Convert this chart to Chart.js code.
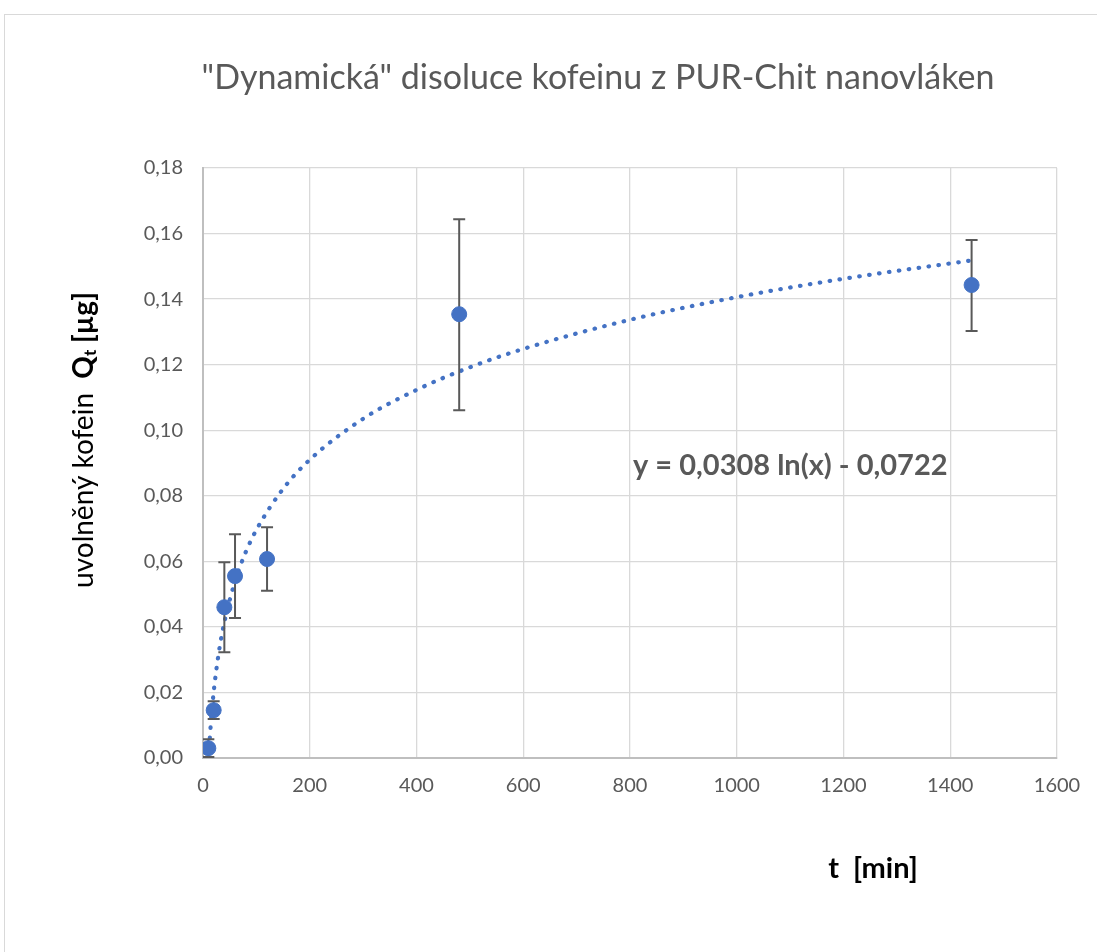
<!DOCTYPE html>
<html>
<head>
<meta charset="utf-8">
<script src="https://cdn.jsdelivr.net/npm/chart.js@4.4.1/dist/chart.umd.min.js"></script>
<style>
  html, body { margin: 0; background: #fff; }
</style>
</head>
<body>
<canvas id="chart" width="1097" height="952"></canvas>
<script>
// measured points (time in min, released caffeine in µg) with error bars
const timeMin = [10, 20, 40, 60, 120, 480, 1440];
const released = [0.003, 0.0146, 0.046, 0.0555, 0.0607, 0.1354, 0.1443];
const errPlus = [0.0027, 0.0027, 0.0137, 0.0128, 0.0097, 0.029, 0.0137];
const errMinus = [0.0027, 0.0027, 0.0137, 0.0128, 0.0097, 0.0293, 0.014];

// dotted log trendline
const trendX = [10, 12, 15, 20, 30, 40, 60, 80, 100, 150, 200, 300, 400, 500, 600, 800, 1000, 1200, 1440];
const trendY = [0.000, 0.0043, 0.0112, 0.0201, 0.0326, 0.0414, 0.0539, 0.0628, 0.0696, 0.0821, 0.0910,
                0.1035, 0.1123, 0.1192, 0.1248, 0.1337, 0.1406, 0.1462, 0.1518];

const titleText = '"Dynamická" disoluce kofeinu z PUR-Chit nanovláken';
const equationText = 'y = 0,0308 ln(x) - 0,0722';
const xTitle = 't  [min]';

const blue = '#4472C4';
const grey = '#595959';
const fontName = 'Lato, "Open Sans", sans-serif';

const errorBars = {
    id: 'errorBars',
    beforeDatasetDraw(chart, args) {
        if (args.index !== 0) return;
        const ctx = chart.ctx;
        const xs = chart.scales.x, ys = chart.scales.y;
        ctx.save();
        ctx.beginPath();
        ctx.rect(chart.chartArea.left, chart.chartArea.top, chart.chartArea.width, chart.chartArea.height);
        ctx.clip();
        ctx.strokeStyle = grey;
        ctx.lineWidth = 2;
        timeMin.forEach((t, i) => {
            const px = xs.getPixelForValue(t);
            const top = ys.getPixelForValue(released[i] + errPlus[i]);
            const bot = ys.getPixelForValue(released[i] - errMinus[i]);
            ctx.beginPath();
            ctx.moveTo(px, top); ctx.lineTo(px, bot);
            ctx.moveTo(px - 6, top); ctx.lineTo(px + 6, top);
            ctx.moveTo(px - 6, bot); ctx.lineTo(px + 6, bot);
            ctx.stroke();
        });
        ctx.restore();
    }
};

const labels = {
    id: 'labels',
    beforeDraw(chart) {
        const ctx = chart.ctx;
        ctx.save();
        ctx.strokeStyle = '#d9d9d9';
        ctx.lineWidth = 1;
        ctx.strokeRect(4.5, 14.5, 1400, 1400);
        ctx.restore();
    },
    afterDraw(chart) {
        const ctx = chart.ctx;
        ctx.save();
        ctx.fillStyle = grey;
        ctx.textBaseline = 'middle';

        ctx.textAlign = 'center';
        ctx.font = '34px ' + fontName;
        ctx.fillText(titleText, 598, 78);

        ctx.fillStyle = '#000';
        ctx.font = 'bold 29px ' + fontName;
        ctx.fillText(xTitle, 873, 869);

        ctx.fillStyle = grey;
        ctx.textAlign = 'left';
        ctx.font = 'bold 29px ' + fontName;
        ctx.fillText(equationText, 633, 466);

        // rotated y title with bold Q and subscript t
        const parts = [
            { t: 'uvolněný kofein  ', f: '28px ' + fontName, dy: 0 },
            { t: 'Q', f: 'bold 28px ' + fontName, dy: 0 },
            { t: 't', f: 'bold 17px ' + fontName, dy: 7 },
            { t: ' [µg]', f: 'bold 28px ' + fontName, dy: 0 }
        ];
        let total = 0;
        parts.forEach(p => { ctx.font = p.f; p.w = ctx.measureText(p.t).width; total += p.w; });
        ctx.translate(84, 440);
        ctx.rotate(-Math.PI / 2);
        ctx.fillStyle = '#000';
        let x = -total / 2;
        parts.forEach(p => { ctx.font = p.f; ctx.fillText(p.t, x, p.dy); x += p.w; });
        ctx.restore();
    }
};

new Chart(document.getElementById('chart'), {
    type: 'scatter',
    data: {
        datasets: [{
            label: 'data',
            data: timeMin.map((t, i) => ({ x: t, y: released[i] })),
            backgroundColor: blue,
            borderColor: blue,
            pointRadius: 7.5,
            pointHoverRadius: 7.5
        }, {
            label: 'trend',
            data: trendX.map((t, i) => ({ x: t, y: trendY[i] })),
            showLine: true,
            borderColor: blue,
            borderWidth: 4.2,
            borderDash: [0.5, 9.5],
            borderCapStyle: 'round',
            cubicInterpolationMode: 'monotone',
            pointRadius: 0
        }]
    },
    options: {
        responsive: false,
        animation: false,
        layout: { padding: { left: 143, right: 40, top: 168, bottom: 144 } },
        plugins: { legend: { display: false }, tooltip: { enabled: false } },
        scales: {
            x: {
                type: 'linear', min: 0, max: 1600,
                afterFit(s) { s.height = 50; },
                ticks: {
                    stepSize: 200, color: grey, padding: 16, font: { family: fontName, size: 20 },
                    callback: v => String(v)
                },
                grid: { color: '#d9d9d9', lineWidth: 1.3, drawTicks: false },
                border: { color: '#bfbfbf', width: 2 }
            },
            y: {
                min: 0, max: 0.18,
                afterFit(s) { s.width = 60; },
                ticks: {
                    stepSize: 0.02, color: grey, padding: 20, font: { family: fontName, size: 20 },
                    callback: v => v.toFixed(2).replace('.', ',')
                },
                grid: { color: '#d9d9d9', lineWidth: 1.3, drawTicks: false },
                border: { color: '#bfbfbf', width: 2 }
            }
        }
    },
    plugins: [errorBars, labels]
});
</script>
</body>
</html>
